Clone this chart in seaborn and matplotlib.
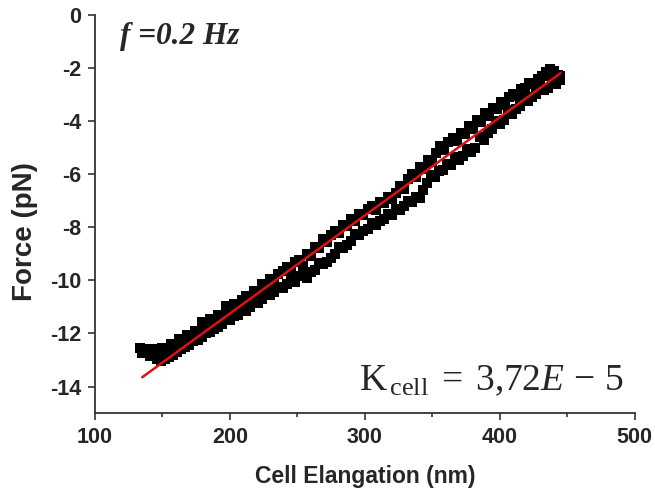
import numpy as np
import pandas as pd
import matplotlib
matplotlib.use("Agg")
import matplotlib.pyplot as plt
import seaborn as sns

# ---- data ----
up_x = [133, 135, 138, 141, 144, 147, 150, 153, 156, 159, 162, 165, 168, 171, 174, 177, 179, 182, 185, 188,
        191, 194, 197, 200, 203, 206, 209, 212, 215, 218, 221, 224, 227, 230, 233, 236, 239, 242, 245, 248,
        251, 254, 257, 260, 263, 266, 269, 272, 275, 278, 281, 284, 287, 290, 293, 296, 299, 302, 305, 308,
        311, 314, 317, 320, 323, 326, 329, 332, 335, 338, 341, 344, 347, 350, 353, 356, 359, 362, 365, 368,
        371, 374, 377, 380, 383, 386, 389, 392, 395, 398, 401, 404, 407, 410, 413, 416, 419, 422, 425, 428,
        431, 434, 437, 440, 443, 445]
up_y = [-12.55, -12.75, -12.6, -12.85, -12.6, -12.8, -12.55, -12.65, -12.4, -12.5, -12.2, -12.35, -12.05, -12.15,
        -11.9, -11.95, -11.55, -11.7, -11.45, -11.6, -11.3, -11.35, -10.95, -11.1, -10.9, -11.05, -10.75, -10.6,
        -10.7, -10.4, -10.45, -10.15, -10.25, -9.95, -10.05, -9.75, -9.65, -9.5, -9.6, -9.3, -9.25, -9.45, -9.0,
        -9.1, -8.75, -8.8, -8.45, -8.55, -8.3, -8.15, -8.2, -7.9, -7.95, -7.7, -7.75, -7.5, -7.55, -7.3, -7.2,
        -7.35, -7.05, -7.1, -6.85, -6.95, -6.7, -6.45, -6.55, -6.2, -6.0, -6.1, -5.75, -5.8, -5.45, -5.55, -5.2,
        -4.95, -5.1, -4.8, -4.65, -4.75, -4.45, -4.5, -4.2, -4.3, -3.95, -4.05, -3.7, -3.8, -3.5, -3.55, -3.3,
        -3.4, -3.1, -3.0, -3.05, -2.8, -2.75, -2.55, -2.6, -2.4, -2.3, -2.15, -2.05, -2.1, -2.25, -2.3]

down_x = [445, 442, 439, 436, 433, 430, 427, 424, 421, 418, 415, 412, 409, 406, 403, 400, 397, 394, 391, 388,
          385, 382, 379, 376, 373, 370, 367, 364, 361, 358, 355, 352, 349, 346, 343, 341, 338, 335, 332, 329,
          326, 323, 320, 317, 314, 311, 308, 305, 302, 299, 296, 293, 290, 287, 284, 281, 278, 275, 272, 269,
          266, 263, 260, 257, 254, 251, 248, 245, 242, 239, 236, 233, 230, 227, 224, 221, 218, 215, 212, 209,
          206, 203, 200, 197, 194, 191, 188, 185, 182, 179, 176, 173, 170, 167, 164, 161, 158, 155, 152, 149,
          146]
down_y = [-2.45, -2.6, -2.5, -2.75, -2.85, -2.7, -3.0, -3.1, -3.25, -3.15, -3.45, -3.55, -3.75, -3.6, -3.95,
          -4.1, -4.0, -4.3, -4.45, -4.7, -4.6, -5.0, -5.15, -5.05, -5.3, -5.45, -5.35, -5.65, -5.6, -5.85, -5.9,
          -6.1, -6.05, -6.35, -6.6, -6.9, -6.85, -7.05, -7.0, -7.2, -7.35, -7.3, -7.55, -7.5, -7.7, -7.75, -7.9,
          -7.85, -8.05, -8.15, -8.3, -8.25, -8.5, -8.65, -8.8, -8.75, -9.0, -9.15, -9.3, -9.4, -9.35, -9.6, -9.7,
          -9.9, -9.8, -9.85, -10.05, -10.0, -10.15, -10.3, -10.25, -10.45, -10.55, -10.5, -10.7, -10.85, -10.8,
          -11.0, -11.15, -11.1, -11.3, -11.35, -11.5, -11.45, -11.65, -11.75, -11.85, -11.95, -12.0, -12.15,
          -12.25, -12.3, -12.45, -12.5, -12.6, -12.7, -12.8, -12.9, -12.95, -13.05, -12.95]

fit_x = [135, 445]
fit_y = [-13.65, -2.2]

x_ticks = [100, 200, 300, 400, 500]
y_ticks = [0, -2, -4, -6, -8, -10, -12, -14]

# ---- plot ----
sns.set_style("ticks")
plt.rcParams["font.family"] = ["Liberation Sans", "DejaVu Sans"]
plt.rcParams["mathtext.fontset"] = "custom"
plt.rcParams["mathtext.rm"] = "Liberation Serif"
plt.rcParams["mathtext.it"] = "Liberation Serif:italic"

df = pd.DataFrame({"x": up_x + down_x, "y": up_y + down_y})
fit = pd.DataFrame({"x": fit_x, "y": fit_y})

fig = plt.figure(figsize=(6.55, 4.93), dpi=100)
ax = fig.add_axes([0.145, 0.162, 0.824, 0.808])

sns.scatterplot(data=df, x="x", y="y", ax=ax, marker="s", s=58, color="black",
                edgecolor="black", linewidth=0, legend=False)
sns.lineplot(data=fit, x="x", y="y", ax=ax, color="#e01010", linewidth=1.8, legend=False)

ax.set_xlim(100, 500)
ax.set_ylim(-15, 0)
ax.set_xticks(x_ticks)
ax.set_yticks(y_ticks)
ax.set_xticks([150, 250, 350, 450], minor=True)
ax.set_xticklabels([str(v) for v in x_ticks], fontsize=15.5, fontweight="bold")
ax.set_yticklabels([str(v) for v in y_ticks], fontsize=15.5, fontweight="bold")
ax.tick_params(axis="both", which="major", direction="out", length=5, width=1.2, color="#333333", pad=5)
ax.tick_params(axis="x", which="minor", direction="out", length=3, width=1.2, color="#333333")

for s in ["top", "right"]:
    ax.spines[s].set_visible(False)
for s in ["left", "bottom"]:
    ax.spines[s].set_linewidth(1.3)
    ax.spines[s].set_color("#333333")

ax.set_xlabel("Cell Elangation (nm)", fontsize=16.5, fontweight="bold", labelpad=12)
ax.set_ylabel("Force (pN)", fontsize=20, fontweight="bold")
ax.yaxis.set_label_coords(-0.106, 0.457)

ax.text(0.046, 0.927, "f =0.2 Hz", transform=ax.transAxes, fontsize=22.5,
        family="Liberation Serif", style="italic", fontweight="bold", ha="left", va="baseline")
ax.text(0.98, 0.058, r"$\mathrm{K}_{\,\mathrm{cell}}\;=\;3{,}72E\,-\,5$", transform=ax.transAxes,
        fontsize=27, ha="right", va="baseline")

fig.savefig("out.png", dpi=100)
